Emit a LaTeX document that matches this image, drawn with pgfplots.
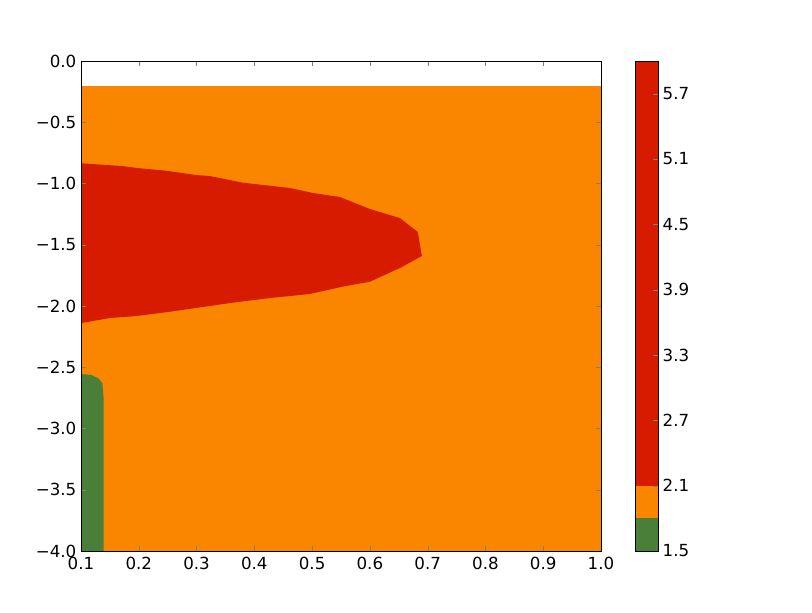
\documentclass[border=0pt]{standalone}
\usepackage{fontspec}
\setmainfont{DejaVu Sans}
\usepackage{pgfplots}
\pgfplotsset{compat=1.18}
\definecolor{corange}{RGB}{250,134,0}
\definecolor{cred}{RGB}{215,27,0}
\definecolor{cgreen}{RGB}{74,127,58}
\begin{document}
\begin{tikzpicture}
\path[use as bounding box] (-60.75pt,-45.75pt) rectangle (548.25pt,413.25pt);
\begin{axis}[
  at={(0pt,0pt)}, anchor=south west,
  scale only axis, width=390pt, height=367.5pt,
  xmin=0.1, xmax=1.0, ymin=-4, ymax=0,
  axis on top,
  tick align=inside, major tick length=4pt,
  xtick={0.1,0.2,0.3,0.4,0.5,0.6,0.7,0.8,0.9,1.0},
  xticklabels={0.1,0.2,0.3,0.4,0.5,0.6,0.7,0.8,0.9,1.0},
  ytick={-4,-3.5,-3,-2.5,-2,-1.5,-1,-0.5,0},
  yticklabels={−4.0,−3.5,−3.0,−2.5,−2.0,−1.5,−1.0,−0.5,0.0},
  tick label style={font=\fontsize{12.5}{15}\selectfont},
  xticklabel style={yshift=-1pt},
  every axis plot/.append style={draw=none},
]
\addplot[fill=corange] coordinates {(0.1,-4) (1.0,-4) (1.0,-0.2) (0.1,-0.2)} --cycle;
\addplot[fill=cred] coordinates {
(0.1,-0.835) (0.170,-0.857) (0.202,-0.876) (0.248,-0.896) (0.300,-0.931) (0.323,-0.939)
(0.380,-0.993) (0.462,-1.037) (0.502,-1.078) (0.548,-1.110) (0.600,-1.208) (0.652,-1.282)
(0.683,-1.396) (0.690,-1.592)
(0.652,-1.690) (0.600,-1.802) (0.553,-1.842) (0.496,-1.902) (0.427,-1.935) (0.358,-1.976)
(0.254,-2.047) (0.196,-2.082) (0.150,-2.098) (0.1,-2.140)} --cycle;
\addplot[fill=cgreen] coordinates {
(0.1,-2.555) (0.118,-2.563) (0.130,-2.59) (0.137,-2.63) (0.139,-2.74) (0.139,-4.0) (0.1,-4.0)} --cycle;
\end{axis}
\begin{axis}[
  at={(415.5pt,0pt)}, anchor=south west,
  scale only axis, width=17.25pt, height=367.5pt,
  xmin=0, xmax=1, ymin=1.5, ymax=6.0,
  axis on top,
  xtick=\empty,
  ytick={1.5,2.1,2.7,3.3,3.9,4.5,5.1,5.7},
  yticklabels={1.5,2.1,2.7,3.3,3.9,4.5,5.1,5.7},
  yticklabel pos=right, ytick pos=right,
  tick align=inside, major tick length=4pt,
  tick label style={font=\fontsize{12.5}{15}\selectfont},
  every axis plot/.append style={draw=none},
]
\addplot[fill=cgreen] coordinates {(0,1.5) (1,1.5) (1,1.8) (0,1.8)} --cycle;
\addplot[fill=corange] coordinates {(0,1.8) (1,1.8) (1,2.1) (0,2.1)} --cycle;
\addplot[fill=cred] coordinates {(0,2.1) (1,2.1) (1,6.0) (0,6.0)} --cycle;
\end{axis}
\end{tikzpicture}
\end{document}
